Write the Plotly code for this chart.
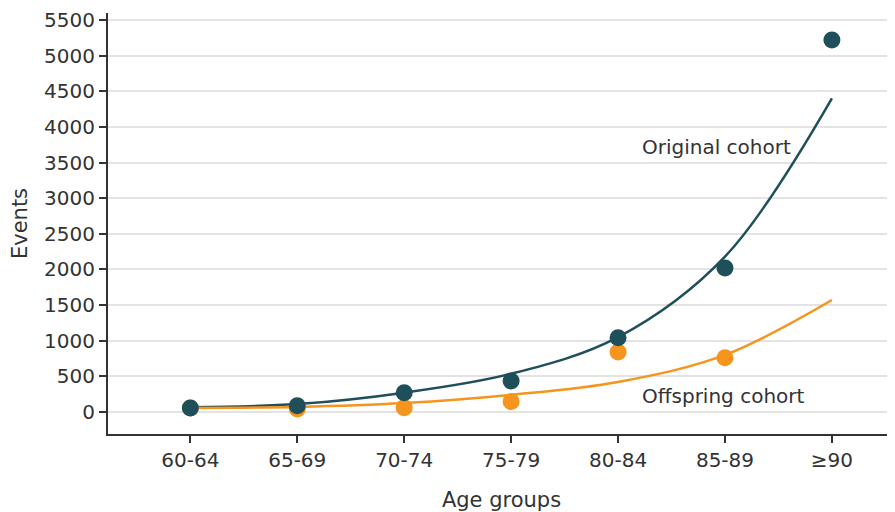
import plotly.graph_objects as go

age_groups = ["60-64", "65-69", "70-74", "75-79", "80-84", "85-89", "≥90"]
original_events = [55, 85, 270, 435, 1040, 2020, 5220]
offspring_events = [55, 40, 60, 145, 840, 760]
original_trend = [65, 110, 270, 535, 1050, 2180, 4400]
offspring_trend = [55, 70, 125, 240, 420, 800, 1570]
y_ticks = [0, 500, 1000, 1500, 2000, 2500, 3000, 3500, 4000, 4500, 5000, 5500]

DARK = "#1f4f5a"
ORANGE = "#f7941d"
TEXT = "#333333"
FONT = "DejaVu Sans, sans-serif"

xi = list(range(len(age_groups)))

fig = go.Figure()
fig.add_trace(go.Scatter(x=xi, y=original_trend, mode="lines",
                         line=dict(color=DARK, width=2.5, shape="spline", smoothing=1.0),
                         hoverinfo="skip"))
fig.add_trace(go.Scatter(x=xi, y=offspring_trend, mode="lines",
                         line=dict(color=ORANGE, width=2.5, shape="spline", smoothing=1.0),
                         hoverinfo="skip"))
fig.add_trace(go.Scatter(x=xi[:len(offspring_events)], y=offspring_events, mode="markers",
                         marker=dict(color=ORANGE, size=17)))
fig.add_trace(go.Scatter(x=xi, y=original_events, mode="markers",
                         marker=dict(color=DARK, size=17)))

fig.add_annotation(x=4.92, y=3720, text="Original cohort", showarrow=False,
                   font=dict(size=20, color=TEXT, family=FONT))
fig.add_annotation(x=4.99, y=225, text="Offspring cohort", showarrow=False,
                   font=dict(size=20, color=TEXT, family=FONT))

fig.update_layout(
    width=887, height=504,
    margin=dict(l=100, r=0, t=5, b=78),
    paper_bgcolor="white", plot_bgcolor="white",
    showlegend=False,
    font=dict(family=FONT, size=20, color=TEXT),
)
fig.update_xaxes(
    range=[-0.77, 6.59], automargin=False,
    tickmode="array", tickvals=xi, ticktext=age_groups,
    showgrid=False, zeroline=False,
    showline=True, linecolor="#333333", linewidth=2,
    ticks="outside", ticklen=7, tickwidth=2, tickcolor="#333333",
    tickfont=dict(size=20, color=TEXT, family=FONT),
    title=dict(text="Age groups", font=dict(size=21, color=TEXT, family=FONT), standoff=26),
)
fig.update_yaxes(
    range=[-310, 5598], automargin=False,
    tickmode="array", tickvals=y_ticks, ticklabeloverflow="allow",
    showgrid=True, gridcolor="#e3e3e3", gridwidth=2,
    zeroline=False,
    showline=True, linecolor="#333333", linewidth=2,
    ticks="outside", ticklen=7, tickwidth=2, tickcolor="#333333",
    tickfont=dict(size=20, color=TEXT, family=FONT),
    title=dict(text="Events", font=dict(size=21, color=TEXT, family=FONT), standoff=14),
)

fig.write_html("out.html")
